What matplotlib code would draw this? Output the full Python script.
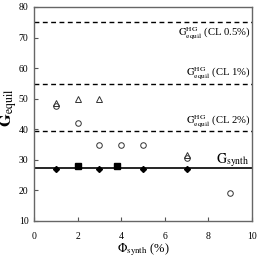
import matplotlib

matplotlib.use("Agg")
import matplotlib.pyplot as plt

plt.rcParams["font.family"] = ["Liberation Serif", "DejaVu Serif"]
plt.rcParams["mathtext.fontset"] = "stix"

# data
diam_x = [1, 3, 5, 7]
diam_y = [27, 27, 27, 27]
sq_x = [2, 3.8]
sq_y = [28, 28]
tri_x = [1, 2, 3, 7]
tri_y = [48.5, 50, 50, 31.5]
circ_x = [1, 2, 3, 4, 5, 7, 9]
circ_y = [47.5, 42, 35, 35, 35, 30.5, 19]
g_synth = 27.2
g_hg = [75.2, 54.8, 39.3]
g_hg_labels = ["CL 0.5%", "CL 1%", "CL 2%"]
g_hg_text_y = [71.3, 58.0, 42.3]

fig = plt.figure(figsize=(2.58, 2.59), dpi=100)
ax = fig.add_axes([0.132, 0.147, 0.845, 0.826])

ax.axhline(g_synth, color="black", lw=1.2, zorder=1)
for y in g_hg:
    ax.axhline(y, color="black", lw=1.0, ls=(0, (3.5, 2.5)), zorder=1)

ax.plot(circ_x, circ_y, "o", ms=4, mfc="white", mec="#333", mew=0.7, ls="none")
ax.plot(tri_x, tri_y, "^", ms=4.5, mfc="none", mec="#333", mew=0.7, ls="none")
ax.plot(sq_x, sq_y, "s", ms=4, color="black", ls="none")
ax.plot(diam_x, diam_y, "D", ms=3, color="black", ls="none")

for lab, ty in zip(g_hg_labels, g_hg_text_y):
    ax.text(9.95, ty, r"$\mathrm{G}_{\mathrm{equil}}^{\mathrm{HG}}$" + f" ({lab})",
            ha="right", va="center", fontsize=7.7)
ax.text(8.35, 30, r"$\mathrm{G}_{\mathrm{synth}}$", ha="left", va="center", fontsize=10)

ax.set_xlim(0, 10)
ax.set_ylim(10, 80)
ax.set_xticks(range(0, 11, 2))
ax.set_yticks(range(10, 81, 10))
ax.tick_params(direction="in", labelsize=7, length=3, color="#555", pad=8)
ax.tick_params(axis="y", pad=4)
for s in ax.spines.values():
    s.set_color("#666")
    s.set_linewidth(1.0)

ax.set_xlabel(r"$\Phi_{\mathrm{synth}}$ (%)", fontsize=9, labelpad=0)
ax.set_ylabel(r"$\mathbf{G}_{\mathrm{equil}}$", fontsize=12)
ax.yaxis.set_label_coords(-0.068, 0.53)

fig.savefig("out.png", dpi=100)
